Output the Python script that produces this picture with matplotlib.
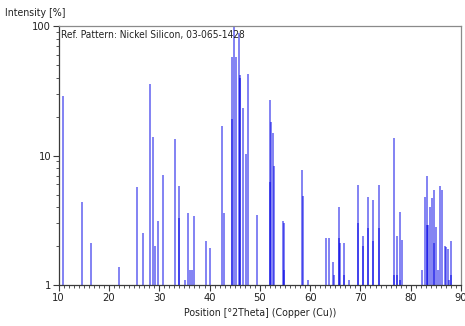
import matplotlib
matplotlib.use("Agg")
import matplotlib.pyplot as plt
from matplotlib.ticker import FixedLocator, FixedFormatter, MultipleLocator, NullFormatter

# Reference pattern: peak positions (°2θ) and relative intensities (%)
positions = [
    10.9, 14.6, 16.4, 22.05, 25.6, 26.7, 28.15, 28.85, 29.15, 29.7,
    30.8, 33.05, 33.85, 33.9, 35.05, 35.75, 36.2, 36.45, 36.85, 39.3,
    40.1, 42.45, 42.85, 44.45, 44.55, 44.95, 45.2, 45.9, 46.05, 46.1,
    46.6, 47.2, 47.6, 49.35, 52.05, 52.1, 52.3, 52.7, 52.75, 54.65,
    54.75, 54.8, 58.45, 58.5, 59.6, 63.1, 63.75, 64.6, 64.65, 65.7,
    65.75, 65.9, 66.65, 66.7, 67.7, 69.45, 69.5, 70.5, 70.55, 71.45,
    71.5, 72.55, 72.6, 73.6, 73.65, 76.6, 76.65, 77.3, 77.35, 77.85,
    77.9, 78.2, 82.25, 82.8, 83.15, 83.2, 83.5, 83.8, 84.15, 84.6,
    84.65, 84.95, 85.35, 85.8, 86.2, 86.75, 87.05, 87.5, 87.55, 88.05,
    88.1,
]
intensities = [
    29, 4.4, 2.1, 1.38, 5.7, 2.5, 36, 13.8, 2.0, 3.1,
    7.1, 13.4, 5.85, 3.3, 1.09, 3.6, 1.3, 1.3, 3.4, 2.2,
    1.92, 17, 3.6, 58, 19, 100, 58, 88, 42, 40,
    23.4, 10.2, 43, 3.5, 27, 6.3, 18, 15, 8.3, 3.1,
    3.0, 1.3, 7.7, 4.9, 1.1, 2.32, 2.32, 1.5, 1.2, 4.0,
    2.3, 2.1, 2.1, 1.2, 1.1, 5.95, 3.0, 2.39, 2.0, 4.75,
    2.74, 4.53, 2.2, 5.95, 2.74, 13.6, 1.2, 2.39, 1.2, 3.64,
    1.1, 2.23, 1.3, 4.75, 7.0, 2.9, 2.9, 4.0, 4.7, 5.4,
    2.1, 2.8, 1.3, 5.85, 5.4, 2.0, 1.95, 1.9, 1.1, 2.2,
    1.2,
]

y_ticks = [1, 10, 100]
y_tick_labels = ["1", "10", "100"]
x_ticks = [10, 20, 30, 40, 50, 60, 70, 80, 90]

font = dict(family="DejaVu Sans", stretch="condensed")
axis_dark = "#3a3a3a"
frame_grey = "#8a8a8a"
text_col = "#222222"
fs = 7.6

fig = plt.figure(figsize=(4.65, 3.26), dpi=100)
ax = fig.add_axes([0.1262, 0.1258, 0.9914 - 0.1262, 0.920 - 0.1258])

ax.vlines(positions, 1, intensities, colors="#0000e6", alpha=0.55, linewidth=1.25)

ax.set_yscale("log")
ax.set_ylim(1, 100)
ax.set_xlim(10, 90)

ax.yaxis.set_major_locator(FixedLocator(y_ticks))
ax.yaxis.set_major_formatter(FixedFormatter(y_tick_labels))
ax.yaxis.set_minor_locator(FixedLocator([m * d for d in (1, 10) for m in range(2, 10)]))
ax.yaxis.set_minor_formatter(NullFormatter())
ax.xaxis.set_major_locator(FixedLocator(x_ticks))
ax.xaxis.set_minor_locator(MultipleLocator(1))

ax.tick_params(axis="both", which="major", direction="out", length=4, width=0.8,
               colors=axis_dark, labelsize=8, pad=1.5)
ax.tick_params(axis="both", which="minor", direction="out", length=2, width=0.6,
               colors=axis_dark)
for lab in ax.get_xticklabels() + ax.get_yticklabels():
    lab.set_fontfamily(font["family"])
    lab.set_fontstretch(font["stretch"])
    lab.set_color(text_col)

ax.spines["left"].set_color(axis_dark)
ax.spines["bottom"].set_color(axis_dark)
ax.spines["top"].set_color(frame_grey)
ax.spines["right"].set_color(frame_grey)
for s in ax.spines.values():
    s.set_linewidth(0.9)

ax.text(0.005, 0.985, "Ref. Pattern: Nickel Silicon, 03-065-1428",
        transform=ax.transAxes, ha="left", va="top", fontsize=7.3,
        color=text_col, **font)

ax.set_xlabel("Position [°2Theta] (Copper (Cu))", fontsize=fs, color=text_col,
              labelpad=4, **font)
fig.text(5 / 465, 1 - 13 / 326, "Intensity [%]", ha="left", va="center",
         fontsize=fs, color=text_col, **font)

fig.savefig("out.png", dpi=100)
